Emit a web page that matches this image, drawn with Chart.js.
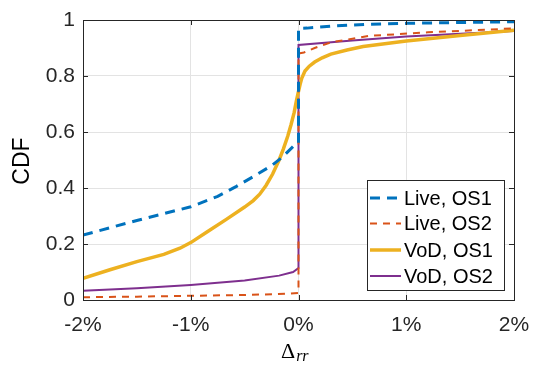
<!DOCTYPE html>
<html>
<head>
<meta charset="utf-8">
<script src="https://cdn.jsdelivr.net/npm/chart.js@4.4.1/dist/chart.umd.min.js"></script>
<style>
html,body{margin:0;padding:0;background:#fff;}
#wrap{width:533px;height:365px;position:relative;}
</style>
</head>
<body>
<div id="wrap"><canvas id="c" width="533" height="365"></canvas></div>
<script>
// ---- data (x in %, y = CDF) ----
const seriesLabels = ['Live, OS1', 'Live, OS2', 'VoD, OS1', 'VoD, OS2'];
const xTickValues = [-2, -1, 0, 1, 2];
const yTickValues = [0, 0.2, 0.4, 0.6, 0.8, 1];

const liveOS1X = [-2, -1.5, -1, -0.75, -0.58, -0.4, -0.25, -0.15, -0.05, 0, 0, 0.08, 0.3, 0.66, 1, 1.5, 2];
const liveOS1Y = [0.232, 0.284, 0.333, 0.37, 0.405, 0.445, 0.48, 0.51, 0.548, 0.56, 0.97, 0.971, 0.978, 0.985, 0.988, 0.991, 0.994];

const liveOS2X = [-2, -1.5, -1, -0.5, -0.2, 0, 0, 0.05, 0.15, 0.3, 0.65, 1.2, 2];
const liveOS2Y = [0.01, 0.012, 0.015, 0.018, 0.021, 0.025, 0.88, 0.884, 0.9, 0.92, 0.943, 0.956, 0.97];

const vodOS1X = [-2, -1.75, -1.5, -1.25, -1.1, -1, -0.85, -0.67, -0.5, -0.42, -0.36, -0.3, -0.24, -0.18, -0.14, -0.1, -0.07, -0.04, -0.02, 0, 0.015, 0.03, 0.06, 0.1, 0.15, 0.22, 0.3, 0.45, 0.6, 0.8, 1, 1.5, 2];
const vodOS1Y = [0.077, 0.108, 0.137, 0.163, 0.185, 0.205, 0.243, 0.288, 0.332, 0.355, 0.378, 0.41, 0.45, 0.5, 0.54, 0.585, 0.625, 0.67, 0.71, 0.745, 0.77, 0.792, 0.818, 0.835, 0.85, 0.865, 0.878, 0.893, 0.905, 0.915, 0.925, 0.945, 0.963];

const vodOS2X = [-2, -1.5, -1, -0.5, -0.18, -0.05, 0, 0, 0.5, 1, 1.5, 2];
const vodOS2Y = [0.033, 0.042, 0.054, 0.07, 0.087, 0.1, 0.114, 0.911, 0.927, 0.941, 0.951, 0.961];

const seriesColors = ['#0072BD', '#D95319', '#EDB120', '#7E2F8E'];

function pts(xs, ys) { return xs.map((x, i) => ({x: x, y: ys[i]})); }

const styles = [
  {w: 3, dash: [10, 7]},
  {w: 2, dash: [7, 6]},
  {w: 3.5, dash: []},
  {w: 2, dash: []}
];
const allX = [liveOS1X, liveOS2X, vodOS1X, vodOS2X];
const allY = [liveOS1Y, liveOS2Y, vodOS1Y, vodOS2Y];

const datasets = seriesLabels.map((lab, i) => ({
  label: lab,
  data: pts(allX[i], allY[i]),
  borderColor: seriesColors[i],
  backgroundColor: seriesColors[i],
  borderWidth: styles[i].w,
  borderDash: styles[i].dash,
  showLine: true,
  pointRadius: 0,
  tension: 0,
  fill: false
}));

const FONT = "'Liberation Sans', Arial, sans-serif";

const decor = {
  id: 'decor',
  afterDraw(chart) {
    const ctx = chart.ctx;
    const a = chart.chartArea;
    const xs = chart.scales.x, ys = chart.scales.y;
    ctx.save();
    // box
    ctx.strokeStyle = '#262626';
    ctx.lineWidth = 1;
    ctx.setLineDash([]);
    ctx.strokeRect(Math.round(a.left) + 0.5, Math.round(a.top) + 0.5, Math.round(a.right - a.left), Math.round(a.bottom - a.top));
    // inward ticks
    const tl = 5;
    ctx.beginPath();
    xTickValues.forEach(v => {
      const px = Math.round(xs.getPixelForValue(v)) + 0.5;
      ctx.moveTo(px, a.bottom); ctx.lineTo(px, a.bottom - tl);
      ctx.moveTo(px, a.top); ctx.lineTo(px, a.top + tl);
    });
    yTickValues.forEach(v => {
      const py = Math.round(ys.getPixelForValue(v)) + 0.5;
      ctx.moveTo(a.left, py); ctx.lineTo(a.left + tl, py);
      ctx.moveTo(a.right, py); ctx.lineTo(a.right - tl, py);
    });
    ctx.stroke();

    // legend
    const lx = 367, ly = 180, lw = 137, lh = 110;
    ctx.fillStyle = '#fff';
    ctx.fillRect(lx, ly, lw, lh);
    ctx.strokeStyle = '#262626';
    ctx.strokeRect(lx + 0.5, ly + 0.5, lw, lh);
    ctx.font = '20px ' + FONT;
    ctx.textBaseline = 'middle';
    ctx.textAlign = 'left';
    const rows = [198, 223.5, 250, 276];
    seriesLabels.forEach((lab, i) => {
      const y = rows[i];
      ctx.strokeStyle = seriesColors[i];
      ctx.lineWidth = styles[i].w;
      ctx.setLineDash(styles[i].dash);
      ctx.beginPath();
      ctx.moveTo(370, y); ctx.lineTo(401, y);
      ctx.stroke();
      ctx.setLineDash([]);
      ctx.fillStyle = '#000';
      ctx.fillText(lab, 404, y + 1);
    });

    // y title
    ctx.fillStyle = '#000';
    ctx.save();
    ctx.translate(23, 161);
    ctx.rotate(-Math.PI / 2);
    ctx.font = '23px ' + FONT;
    ctx.textAlign = 'center';
    ctx.textBaseline = 'middle';
    ctx.fillText('CDF', 0, 0);
    ctx.restore();

    // x title: Δ_rr
    ctx.textAlign = 'left';
    ctx.textBaseline = 'alphabetic';
    ctx.font = '22px "Liberation Serif", serif';
    ctx.fillText('Δ', 281, 358);
    const dw = ctx.measureText('Δ').width;
    ctx.font = 'italic 16px "Liberation Serif", serif';
    ctx.fillText('rr', 281 + dw + 1, 361);
    ctx.restore();
  }
};

new Chart(document.getElementById('c'), {
  type: 'scatter',
  data: {datasets: datasets},
  plugins: [decor],
  options: {
    responsive: false,
    animation: false,
    devicePixelRatio: 1,
    layout: {padding: {top: 20, right: 19, left: 0, bottom: 0}},
    plugins: {legend: {display: false}, tooltip: {enabled: false}},
    scales: {
      x: {
        type: 'linear', min: -2, max: 2,
        afterFit: s => { s.height = 65; s.paddingLeft = 0; s.paddingRight = 0; },
        afterBuildTicks: s => { s.ticks = xTickValues.map(v => ({value: v})); },
        grid: {color: '#e3e3e3', drawTicks: false},
        border: {display: false},
        ticks: {
          padding: 13,
          autoSkip: false,
          maxRotation: 0,
          color: '#262626',
          font: {family: FONT, size: 21},
          callback: v => v + '%'
        }
      },
      y: {
        type: 'linear', min: 0, max: 1,
        afterFit: s => { s.width = 83; s.paddingTop = 0; s.paddingBottom = 0; },
        afterBuildTicks: s => { s.ticks = yTickValues.map(v => ({value: v})); },
        grid: {color: '#e3e3e3', drawTicks: false},
        border: {display: false},
        ticks: {
          padding: 8,
          color: '#262626',
          font: {family: FONT, size: 21},
          callback: v => String(v)
        }
      }
    }
  }
});
</script>
</body>
</html>
